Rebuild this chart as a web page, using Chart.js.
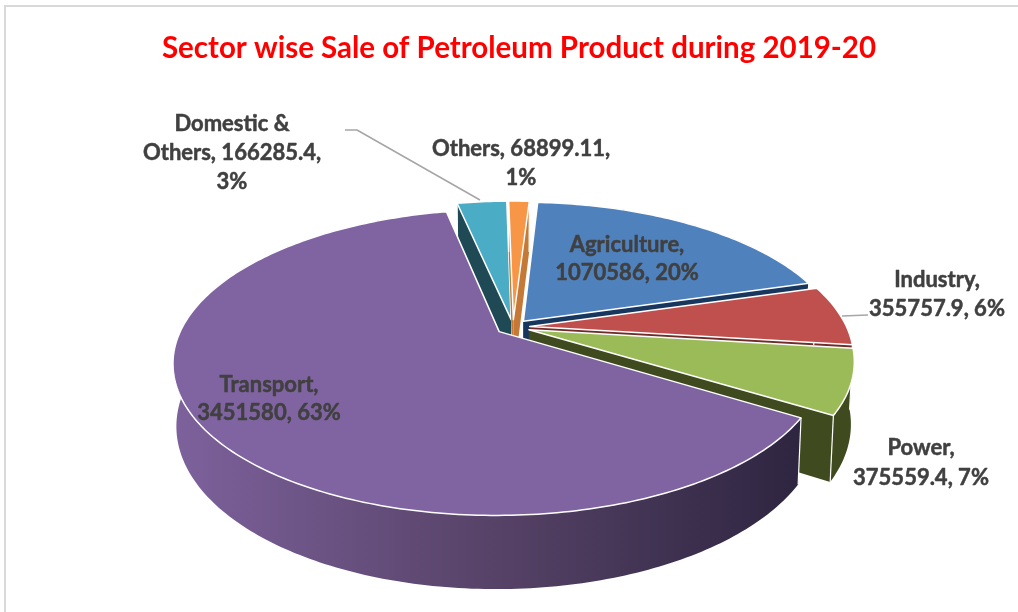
<!DOCTYPE html>
<html>
<head>
<meta charset="utf-8">
<style>html,body{margin:0;padding:0;background:#fff}canvas{display:block}</style>
<script src="https://cdn.jsdelivr.net/npm/chart.js@4/dist/chart.umd.min.js"></script>
</head>
<body>
<canvas id="c" width="1018" height="612"></canvas>
<script>
const categories = ["Agriculture", "Industry", "Power", "Transport", "Domestic & Others", "Others"];
const values = [1070586, 355757.9, 375559.4, 3451580, 166285.4, 68899.11];
const percents = [20, 6, 7, 63, 3, 1];
const titleText = "Sector wise Sale of Petroleum Product during 2019-20";

const topColors = ["#4F81BD", "#C0504D", "#9BBB59", "#8064A2", "#4BACC6", "#F79646"];
const wallColors = ["#17375E", "#6E2C2A", "#3F4B1F", "#2E2540", "#1F4A55", "#C47A36"];
const paintOrder = [4, 5, 0, 1, 2, 3];

/* label layout: centre x, first line centre y, line step, line breaks */
const labelLines = [
  {i: 0, x: 627, y: 245, step: 28, lines: ["Agriculture,", "1070586, 20%"]},
  {i: 1, x: 937, y: 280, step: 29, lines: ["Industry,", "355757.9, 6%"]},
  {i: 2, x: 921, y: 448, step: 30, lines: ["Power,", "375559.4, 7%"]},
  {i: 3, x: 269, y: 385, step: 28, lines: ["Transport,", "3451580, 63%"]},
  {i: 4, x: 232, y: 124, step: 29, lines: ["Domestic &", "Others, 166285.4,", "3%"]},
  {i: 5, x: 521, y: 149, step: 29, lines: ["Others, 68899.11,", "1%"]}
];
const leaders = [
  [[345,130],[357,130],[480,200]],
  [[842,316],[868,315]]
];

/* tilt of the disc */
const RX = 317, RY = 145, PERSP = 0.2, DEPTH = 60, SHRINK = 0.99;

function tiltedPie(chart) {
  const ctx = chart.ctx;
  const els = chart.getDatasetMeta(0).data;
  const cx = els[0].x - 6, cy = els[0].y + 1;

  const project = (u, v, low) => {
    const w = 1 - PERSP * v;
    const s = low ? SHRINK : 1;
    return [cx + RX * u / w * s, cy + RY * v / w * s + (low ? DEPTH / w : 0)];
  };

  paintOrder.forEach(i => {
    const el = els[i];
    const d = el.options.offset / el.outerRadius;
    const mid = (el.startAngle + el.endAngle) / 2;
    const ox = d * Math.cos(mid), oy = d * Math.sin(mid);
    const n = Math.max(8, Math.ceil((el.endAngle - el.startAngle) * 60));
    const arc = [];
    for (let k = 0; k <= n; k++) {
      const t = el.startAngle + (el.endAngle - el.startAngle) * k / n;
      arc.push([ox + Math.cos(t), oy + Math.sin(t)]);
    }
    const poly = (pts, fill) => {
      ctx.beginPath();
      pts.forEach((p, j) => j ? ctx.lineTo(p[0], p[1]) : ctx.moveTo(p[0], p[1]));
      ctx.closePath();
      ctx.fillStyle = fill;
      ctx.fill();
    };
    const apex = [ox, oy];
    const first = arc[0], last = arc[n];

    // radial walls
    [first, last].forEach(e => {
      poly([project(apex[0], apex[1]), project(e[0], e[1]), project(e[0], e[1], true), project(apex[0], apex[1], true)], wallColors[i]);
    });
    // outer wall
    let wallFill = wallColors[i];
    if (i === 3) {
      const g = ctx.createLinearGradient(175, 0, 800, 0);
      g.addColorStop(0, "#7D619C");
      g.addColorStop(0.5, "#574368");
      g.addColorStop(1, "#2E2540");
      wallFill = g;
    }
    const top = arc.map(p => project(p[0], p[1]));
    const bottom = arc.map(p => project(p[0], p[1], true)).reverse();
    poly(top.concat(bottom), wallFill);
    // white corner edges
    ctx.strokeStyle = "#fff";
    ctx.lineWidth = 1.2;
    [first, last].forEach(e => {
      const a = project(e[0], e[1]), b = project(e[0], e[1], true);
      ctx.beginPath(); ctx.moveTo(a[0], a[1]); ctx.lineTo(b[0], b[1]); ctx.stroke();
    });
    // top face
    poly([project(apex[0], apex[1])].concat(top), el.options.backgroundColor);
    ctx.strokeStyle = "#fff";
    ctx.lineWidth = 1.5;
    ctx.lineJoin = "round";
    ctx.stroke();
  });
}

const overlay = {
  id: "overlay",
  beforeDraw(chart) {
    const ctx = chart.ctx;
    ctx.save();
    ctx.fillStyle = "#fff";
    ctx.fillRect(0, 0, chart.width, chart.height);
    ctx.strokeStyle = "#D9D9D9";
    ctx.lineWidth = 2;
    ctx.beginPath();
    ctx.moveTo(5, chart.height);
    ctx.lineTo(5, 6);
    ctx.lineTo(chart.width, 6);
    ctx.stroke();
    ctx.restore();
  },
  beforeDatasetsDraw(chart) {
    const ctx = chart.ctx;
    ctx.save();
    tiltedPie(chart);
    ctx.strokeStyle = "#A6A6A6";
    ctx.lineWidth = 1.5;
    leaders.forEach(l => {
      ctx.beginPath();
      l.forEach((p, j) => j ? ctx.lineTo(p[0], p[1]) : ctx.moveTo(p[0], p[1]));
      ctx.stroke();
    });
    ctx.fillStyle = "#404040";
    ctx.strokeStyle = "#404040";
    ctx.lineWidth = 0.5;
    ctx.font = "bold 22px Lato";
    ctx.textAlign = "center";
    ctx.textBaseline = "middle";
    labelLines.forEach(l => {
      l.lines.forEach((s, j) => {
        ctx.fillText(s, l.x, l.y + j * l.step);
        ctx.strokeText(s, l.x, l.y + j * l.step);
      });
    });
    ctx.restore();
    return false;
  }
};

new Chart(document.getElementById("c"), {
  type: "pie",
  data: {
    labels: categories,
    datasets: [{
      data: values,
      backgroundColor: topColors,
      offset: 13,
      borderWidth: 0
    }]
  },
  options: {
    responsive: false,
    animation: false,
    rotation: 3.5,
    layout: {padding: {left: 20, right: 0, top: 0, bottom: 34}},
    plugins: {
      legend: {display: false},
      tooltip: {enabled: false},
      title: {
        display: true,
        text: titleText,
        color: "#FF0000",
        font: {family: "Lato", weight: "bold", size: 29.5},
        padding: {top: 31, bottom: 8}
      }
    }
  },
  plugins: [overlay]
});
</script>
</body>
</html>
